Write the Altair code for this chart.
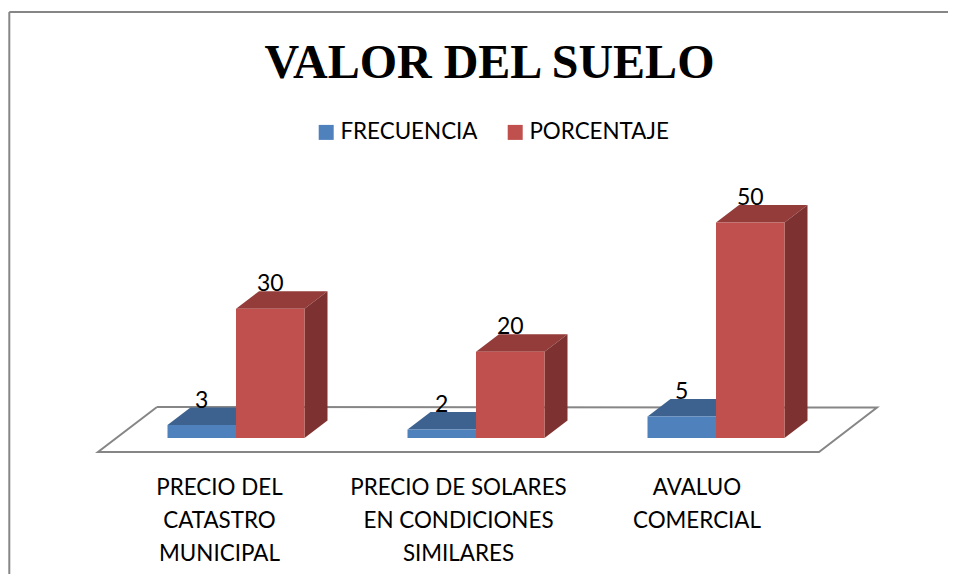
import altair as alt
import pandas as pd

CATEGORIES = ["PRECIO DEL|CATASTRO|MUNICIPAL",
              "PRECIO DE SOLARES|EN CONDICIONES|SIMILARES",
              "AVALUO|COMERCIAL"]
SERIES = ["FRECUENCIA", "PORCENTAJE"]
FRECUENCIA = [3, 2, 5]
PORCENTAJE = [30, 20, 50]
TITLE = "VALOR DEL SUELO"

COLORS = ["#4F81BD", "#C0504D"]
TOP_COLORS = ["#3D6290", "#933C3A"]
SIDE_COLORS = ["#345478", "#7D3231"]

W, H = 940, 566
BASE_PX = 430          # y of value 0, from chart top
UNIT_PX = 4.31         # px per value unit
GROUP_PX = 240         # group spacing
ORIGIN_PX = 228        # left edge of red bar in group 0 (chart coordinates)

BAR_W = 68.5 / GROUP_PX
DX = 23 / GROUP_PX
DY = 17.5 / UNIT_PX

x_scale = alt.Scale(domain=[-ORIGIN_PX / GROUP_PX, (W - ORIGIN_PX) / GROUP_PX], nice=False, zero=False)
y_scale = alt.Scale(domain=[-(H - BASE_PX) / UNIT_PX, BASE_PX / UNIT_PX], nice=False, zero=False)
X = lambda f: alt.X(f, type="quantitative", scale=x_scale, axis=None)
Y = lambda f: alt.Y(f, type="quantitative", scale=y_scale, axis=None)

front, faces, labels = [], [], []
for s, (name, vals) in enumerate(zip(SERIES, [FRECUENCIA, PORCENTAJE])):
    for g, v in enumerate(vals):
        x0 = g + (s - 1) * BAR_W
        x1 = x0 + BAR_W
        front.append(dict(serie=name, x0=x0, x1=x1, y0=0, y1=v))
        labels.append(dict(x=(x0 + x1) / 2, y=v + DY, t=str(v), o=s))
        top_id, side_id = f"t{s}{g}", f"s{s}{g}"
        for px_, lo, hi in [(x0, v, v), (x0 + DX, v, v + DY), (x1, v, v + DY), (x1 + DX, v + DY, v + DY)]:
            faces.append(dict(id=top_id, x=px_, lo=lo, hi=hi, c=TOP_COLORS[s], o=s))
        for px_, lo, hi in [(x1, 0, v), (x1 + DX, DY, v + DY)]:
            faces.append(dict(id=side_id, x=px_, lo=lo, hi=hi, c=SIDE_COLORS[s], o=s))
front, faces, labels = map(pd.DataFrame, (front, faces, labels))

def px(xp, yp):
    return dict(x=(xp - ORIGIN_PX) / GROUP_PX, y=(BASE_PX - yp) / UNIT_PX)

floor = pd.DataFrame([px(149, 399), px(90, 444), px(811, 444), px(869, 399.5), px(149, 399)])
floor["i"] = range(len(floor))

floor_layer = alt.Chart(floor).mark_line(color="#868686", strokeWidth=2).encode(
    x=X("x"), y=Y("y"), order="i:O")

frame = alt.Chart(pd.DataFrame({"a": [0]})).mark_rule(color="#868686", strokeWidth=2)
frame_top = frame.encode(x=alt.value(1.3), x2=alt.value(W), y=alt.value(4))
frame_left = frame.encode(x=alt.value(1.3), y=alt.value(4), y2=alt.value(H))

def face_layer(o):
    return alt.Chart(faces[faces.o == o]).mark_area(interpolate="linear").encode(
        x=X("x"), y=Y("lo"), y2="hi", detail="id:N", color=alt.Color("c:N", scale=None))

def front_layer(name):
    return alt.Chart(front[front.serie == name]).mark_rect().encode(
        x=X("x0"), x2="x1", y=Y("y0"), y2="y1",
        color=alt.Color("serie:N", scale=alt.Scale(domain=SERIES, range=COLORS),
                        legend=alt.Legend(title=None, orient="none", direction="horizontal",
                                          columns=2, legendX=307, legendY=113,
                                          symbolType="square", symbolSize=225, symbolStrokeWidth=0,
                                          labelFont="Lato", labelFontSize=22.4, labelColor="#000000",
                                          labelOffset=3, columnPadding=26, labelLimit=300)))

label_layer = alt.Chart(labels).mark_text(font="Lato", fontSize=23, color="#000000",
                                          baseline="alphabetic", align="center").encode(
    x=X("x"), y=Y("y"), text="t:N")

cats = pd.DataFrame({"c": CATEGORIES,
                     "x": [(p - 8 - ORIGIN_PX) / GROUP_PX for p in (219.5, 458.5, 697)],
                     "y": [(BASE_PX - 468.5) / UNIT_PX] * 3})
cat_layer = alt.Chart(cats).mark_text(font="Lato", fontSize=22.4, color="#000000", lineBreak="|",
                                      lineHeight=33, baseline="top", align="center").encode(
    x=X("x"), y=Y("y"), text="c:N")

chart = alt.layer(
    floor_layer, frame_top, frame_left,
    face_layer(0), front_layer(SERIES[0]),
    face_layer(1), front_layer(SERIES[1]),
    label_layer, cat_layer,
).properties(
    width=W, height=H, padding=0, autosize=alt.AutoSizeParams(type="none"),
    title=alt.TitleParams(TITLE, font="Liberation Serif", fontSize=48, fontWeight="bold",
                          color="#000000", anchor="middle", dx=11.5, dy=84, frame="group"),
).configure_view(stroke=None)

chart.save("out.html", embed_options={"renderer": "svg", "actions": False})
